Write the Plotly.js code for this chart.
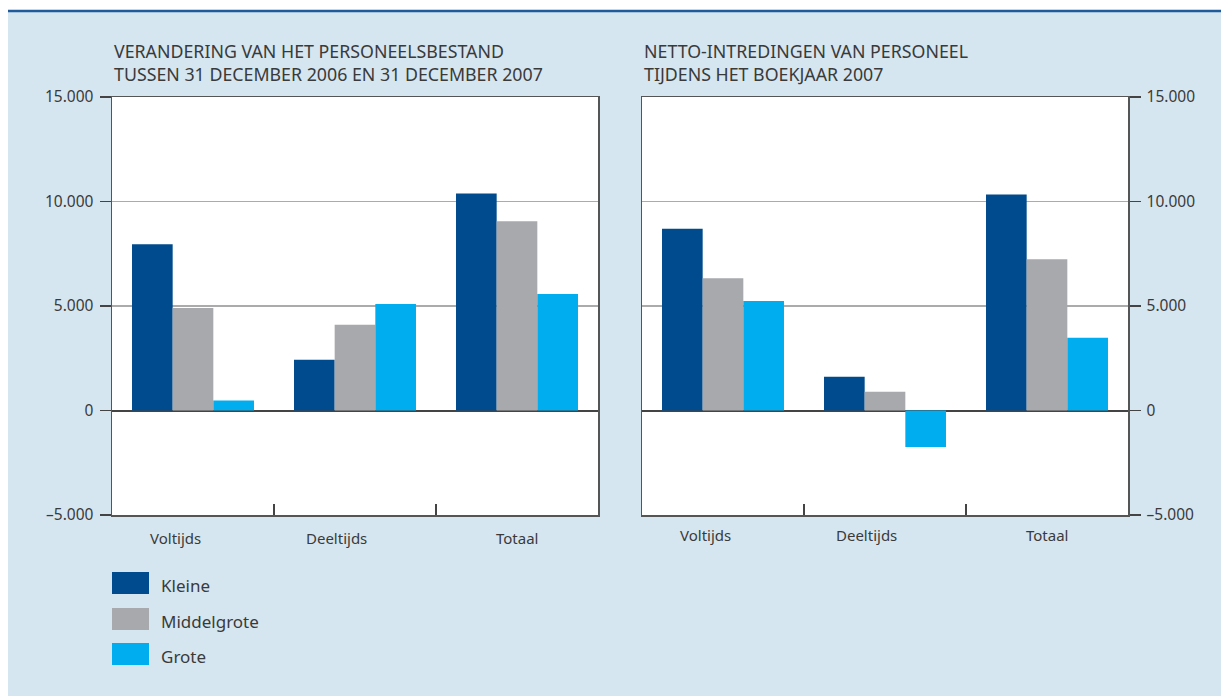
<!DOCTYPE html>
<html>
<head>
<meta charset="utf-8">
<script src="https://cdn.plot.ly/plotly-3.0.1.min.js"></script>
<style>
  html, body { margin: 0; padding: 0; background: #ffffff; }
  #chart { width: 1221px; height: 696px; }
</style>
</head>
<body>
<div id="chart"></div>
<script>
// Categories and series
const categories = ["Voltijds", "Deeltijds", "Totaal"];
const seriesNames = ["Kleine", "Middelgrote", "Grote"];
const seriesColors = ["#004B8D", "#A7A9AC", "#00AEEF"];

// Change in headcount, 31 Dec 2006 – 31 Dec 2007
const bestandKleine = [7950, 2430, 10380];
const bestandMiddelgrote = [4900, 4100, 9050];
const bestandGrote = [480, 5100, 5570];

// Net hires during fiscal year 2007
const intredingKleine = [8700, 1620, 10330];
const intredingMiddelgrote = [6330, 900, 7240];
const intredingGrote = [5240, -1750, 3480];

// Shared y-axis ticks
const yTickVals = [-5000, 0, 5000, 10000, 15000];
const yTickText = ["–5.000", "0", "5.000", "10.000", "15.000"];

const titleLeft = "VERANDERING VAN HET PERSONEELSBESTAND<br>TUSSEN 31 DECEMBER 2006 EN 31 DECEMBER 2007";
const titleRight = "NETTO-INTREDINGEN VAN PERSONEEL<br>TIJDENS HET BOEKJAAR 2007";

const W = 1221, H = 696;
const px = v => v / W;
const py = v => 1 - v / H;

const font = "'Noto Sans', 'Open Sans', sans-serif";
const textColor = "#3a3a3a";
const panelColor = "#D5E6F0";

const leftSets = [bestandKleine, bestandMiddelgrote, bestandGrote];
const rightSets = [intredingKleine, intredingMiddelgrote, intredingGrote];

const traces = [];
seriesNames.forEach((name, i) => {
  traces.push({
    type: "bar", x: categories, y: leftSets[i], name: name,
    marker: { color: seriesColors[i], line: { width: 0 } },
    xaxis: "x", yaxis: "y", showlegend: false, hoverinfo: "skip"
  });
});
seriesNames.forEach((name, i) => {
  traces.push({
    type: "bar", x: categories, y: rightSets[i], name: name,
    marker: { color: seriesColors[i], line: { width: 0 } },
    xaxis: "x2", yaxis: "y2", showlegend: false, hoverinfo: "skip"
  });
});

const yBase = {
  range: [-5000, 15000],
  tickvals: yTickVals, ticktext: yTickText,
  ticks: "outside", ticklen: 11, tickwidth: 1.5, tickcolor: "#444",
  ticklabelstandoff: 3,
  showline: true, linecolor: "#555", linewidth: 1.5, mirror: true,
  showgrid: true, gridcolor: "#ababab", gridwidth: 1.5,
  zeroline: true, zerolinecolor: "#444", zerolinewidth: 2,
  tickfont: { family: font, size: 15.5, color: textColor },
  fixedrange: true
};
const xBase = {
  type: "category",
  tickson: "boundaries",
  ticks: "inside", ticklen: 11, tickwidth: 1.5, tickcolor: "#444",
  showticklabels: false,
  showline: true, linecolor: "#555", linewidth: 1.5, mirror: true,
  showgrid: false, zeroline: false,
  fixedrange: true
};

const yDomain = [py(515), py(97)];

// White margin above the rule and left of the panel; dark blue rule on top
const shapes = [
  { type: "rect", xref: "paper", yref: "paper", x0: 0, x1: 1, y0: py(11), y1: 1,
    fillcolor: "#ffffff", line: { width: 0 }, layer: "below" },
  { type: "rect", xref: "paper", yref: "paper", x0: 0, x1: px(8), y0: 0, y1: 1,
    fillcolor: "#ffffff", line: { width: 0 }, layer: "below" },
  { type: "line", xref: "paper", yref: "paper", x0: px(8), x1: 1, y0: py(11), y1: py(11),
    line: { color: "#1F5A9A", width: 2.5 } }
];

const annotations = [];

// Category labels under each panel, set slightly left of the group centre
const labelShift = [-18, -19, 0];
[["x", 538], ["x2", 535]].forEach(([xref, yPix]) => {
  categories.forEach((cat, i) => {
    annotations.push({
      xref: xref, yref: "paper", x: cat, y: py(yPix), xshift: labelShift[i],
      xanchor: "center", yanchor: "middle", showarrow: false,
      text: cat, font: { family: font, size: 15, color: textColor }
    });
  });
});

// Legend swatches and labels
const legendTops = [572, 608, 643];
seriesNames.forEach((name, i) => {
  const top = legendTops[i];
  shapes.push({
    type: "rect", xref: "paper", yref: "paper",
    x0: px(112), x1: px(149), y0: py(top + 22), y1: py(top),
    fillcolor: seriesColors[i], line: { width: 0 }
  });
  annotations.push({
    xref: "paper", yref: "paper", x: px(159), y: py(top + 13),
    xanchor: "left", yanchor: "middle", showarrow: false,
    text: name, font: { family: font, size: 17, color: textColor }
  });
});

annotations.push({
  xref: "paper", yref: "paper", x: px(112), y: py(88),
  xanchor: "left", yanchor: "bottom", align: "left", showarrow: false,
  text: titleLeft, font: { family: font, size: 17.8, color: textColor }
});
annotations.push({
  xref: "paper", yref: "paper", x: px(642), y: py(88),
  xanchor: "left", yanchor: "bottom", align: "left", showarrow: false,
  text: titleRight, font: { family: font, size: 17.8, color: textColor }
});

const layout = {
  width: W, height: H,
  margin: { l: 0, r: 0, t: 0, b: 0, pad: 0 },
  paper_bgcolor: panelColor,
  plot_bgcolor: "#ffffff",
  barmode: "group",
  bargap: 0.247,
  bargroupgap: 0,
  showlegend: false,
  xaxis: Object.assign({}, xBase, { domain: [px(112), px(598)], anchor: "y" }),
  yaxis: Object.assign({}, yBase, { domain: yDomain, anchor: "x", side: "left" }),
  xaxis2: Object.assign({}, xBase, { domain: [px(642), px(1128)], anchor: "y2" }),
  yaxis2: Object.assign({}, yBase, { domain: yDomain, anchor: "x2", side: "right" }),
  shapes: shapes,
  annotations: annotations
};

Plotly.newPlot("chart", traces, layout, { displayModeBar: false, staticPlot: true });
</script>
</body>
</html>
